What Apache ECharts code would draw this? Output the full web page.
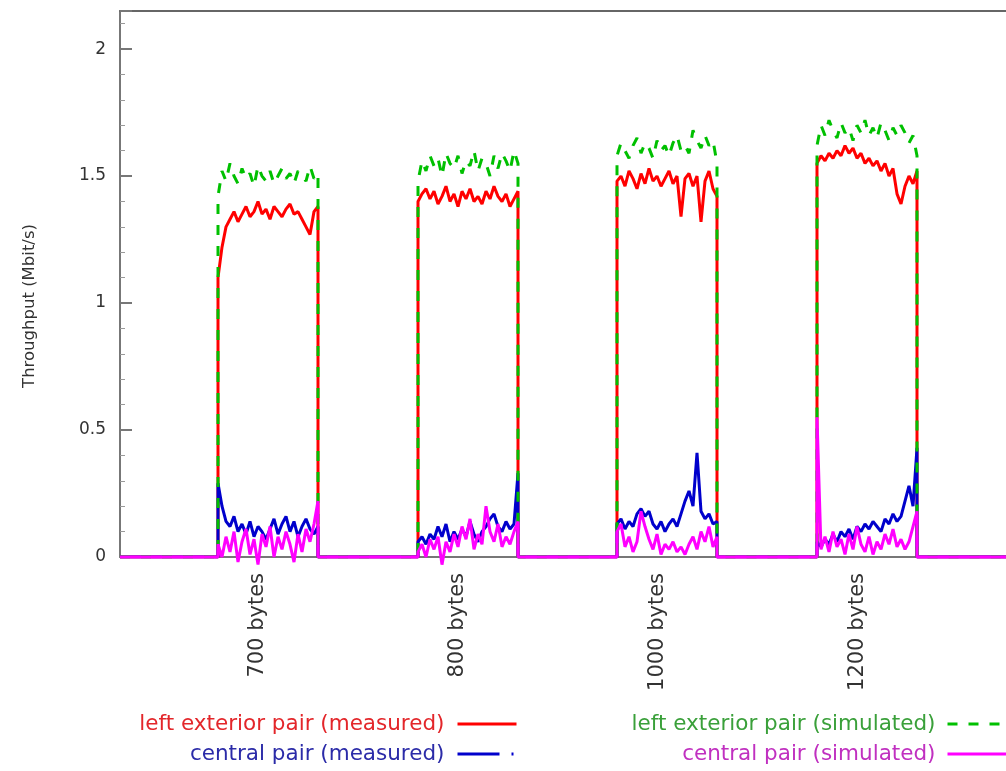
<!DOCTYPE html>
<html>
<head>
<meta charset="utf-8">
<script src="https://cdn.jsdelivr.net/npm/echarts@6/dist/echarts.min.js"></script>
<style>
html, body { margin: 0; padding: 0; background: #fff; }
#chart { width: 1006px; height: 771px; }
</style>
</head>
<body>
<div id="chart"></div>
<script>
// packet size blocks (x = sample time, arbitrary units)
var blockNames = ['700 bytes', '800 bytes', '1000 bytes', '1200 bytes'];
var blockStarts = [49, 149, 248.5, 348.5];
var labelPositions = [69, 169, 269, 369];
var sampleStep = 2;
var xMax = 443;

// left exterior pair (measured) - one list per block
var leftMeasured = [
    [1.10, 1.22, 1.30, 1.33, 1.36, 1.32, 1.35, 1.38, 1.34, 1.36, 1.40, 1.35, 1.37, 1.33, 1.38, 1.36, 1.34, 1.37, 1.39, 1.35, 1.36, 1.33, 1.30, 1.27, 1.36, 1.38],
    [1.40, 1.43, 1.45, 1.41, 1.44, 1.39, 1.42, 1.46, 1.40, 1.43, 1.38, 1.44, 1.41, 1.45, 1.40, 1.42, 1.39, 1.44, 1.41, 1.46, 1.42, 1.40, 1.43, 1.38, 1.41, 1.44],
    [1.48, 1.50, 1.46, 1.52, 1.49, 1.45, 1.51, 1.47, 1.53, 1.48, 1.50, 1.46, 1.49, 1.52, 1.47, 1.50, 1.34, 1.49, 1.51, 1.46, 1.50, 1.32, 1.48, 1.52, 1.45, 1.42],
    [1.55, 1.58, 1.56, 1.59, 1.57, 1.60, 1.58, 1.62, 1.59, 1.61, 1.57, 1.59, 1.55, 1.57, 1.54, 1.56, 1.52, 1.55, 1.50, 1.53, 1.43, 1.39, 1.46, 1.50, 1.47, 1.52]
];
// central pair (measured)
var centralMeasured = [
    [0.29, 0.20, 0.14, 0.12, 0.16, 0.10, 0.13, 0.09, 0.14, 0.08, 0.12, 0.10, 0.07, 0.11, 0.15, 0.09, 0.13, 0.16, 0.10, 0.14, 0.08, 0.12, 0.15, 0.11, 0.09, 0.12],
    [0.06, 0.08, 0.05, 0.09, 0.07, 0.12, 0.08, 0.13, 0.06, 0.10, 0.07, 0.11, 0.08, 0.14, 0.09, 0.06, 0.10, 0.12, 0.15, 0.17, 0.12, 0.10, 0.14, 0.11, 0.13, 0.33],
    [0.13, 0.15, 0.11, 0.14, 0.12, 0.17, 0.19, 0.16, 0.18, 0.13, 0.11, 0.14, 0.10, 0.13, 0.15, 0.12, 0.17, 0.22, 0.26, 0.20, 0.41, 0.18, 0.15, 0.17, 0.13, 0.14],
    [0.06, 0.04, 0.07, 0.05, 0.09, 0.06, 0.10, 0.08, 0.11, 0.07, 0.12, 0.10, 0.13, 0.11, 0.14, 0.12, 0.10, 0.15, 0.13, 0.17, 0.14, 0.16, 0.22, 0.28, 0.20, 0.43]
];
// left exterior pair (simulated)
var leftSimulated = [
    [1.42, 1.52, 1.48, 1.55, 1.50, 1.47, 1.53, 1.49, 1.51, 1.46, 1.54, 1.50, 1.48, 1.52, 1.47, 1.50, 1.53, 1.49, 1.51, 1.47, 1.52, 1.50, 1.48, 1.54, 1.49, 1.51],
    [1.48, 1.56, 1.52, 1.58, 1.54, 1.57, 1.50, 1.59, 1.55, 1.53, 1.58, 1.51, 1.56, 1.54, 1.60, 1.52, 1.57, 1.55, 1.50, 1.58, 1.53, 1.59, 1.56, 1.52, 1.60, 1.55],
    [1.58, 1.63, 1.60, 1.57, 1.62, 1.65, 1.59, 1.63, 1.61, 1.57, 1.64, 1.60, 1.62, 1.58, 1.63, 1.66, 1.60, 1.62, 1.59, 1.68, 1.64, 1.61, 1.66, 1.62, 1.64, 1.55],
    [1.62, 1.70, 1.66, 1.72, 1.68, 1.65, 1.71, 1.67, 1.69, 1.64, 1.70, 1.67, 1.72, 1.66, 1.69, 1.65, 1.71, 1.68, 1.64, 1.69, 1.66, 1.70, 1.67, 1.63, 1.66, 1.58]
];
// central pair (simulated)
var centralSimulated = [
    [0.05, 0.00, 0.08, 0.02, 0.10, -0.02, 0.06, 0.11, 0.01, 0.07, -0.03, 0.09, 0.04, 0.12, 0.00, 0.08, 0.03, 0.10, 0.05, -0.02, 0.09, 0.02, 0.11, 0.06, 0.13, 0.22],
    [0.02, 0.05, 0.00, 0.07, 0.03, 0.08, -0.03, 0.06, 0.02, 0.09, 0.04, 0.12, 0.07, 0.15, 0.03, 0.09, 0.05, 0.20, 0.10, 0.06, 0.13, 0.04, 0.08, 0.05, 0.10, 0.14],
    [0.10, 0.13, 0.04, 0.08, 0.02, 0.06, 0.18, 0.12, 0.07, 0.03, 0.09, 0.01, 0.05, 0.03, 0.06, 0.02, 0.04, 0.01, 0.05, 0.08, 0.03, 0.10, 0.06, 0.12, 0.04, 0.08],
    [0.55, 0.03, 0.08, 0.02, 0.10, 0.04, 0.07, 0.01, 0.09, 0.03, 0.12, 0.05, 0.02, 0.08, 0.01, 0.06, 0.03, 0.09, 0.05, 0.11, 0.04, 0.07, 0.03, 0.06, 0.12, 0.18]
];

var yTicks = { min: 0, max: 2.15, interval: 0.5 };
var font = 'DejaVu Sans';

function buildPoints(blocks) {
    var pts = [[0, 0]];
    blocks.forEach(function (vals, b) {
        var x0 = blockStarts[b];
        pts.push([x0, 0]);
        vals.forEach(function (v, i) {
            pts.push([x0 + i * sampleStep, v]);
        });
        pts.push([x0 + (vals.length - 1) * sampleStep, 0]);
    });
    pts.push([xMax, 0]);
    return pts;
}

function lineSeries(name, blocks, color, type, clip) {
    return {
        name: name,
        type: 'line',
        data: buildPoints(blocks),
        symbol: 'none',
        showSymbol: false,
        clip: clip,
        lineStyle: { color: color, width: 3, type: type },
        itemStyle: { color: color }
    };
}

// the symbol in the legend is hidden, only the line sample stays
var legendCommon = {
    orient: 'vertical', align: 'right', top: 708,
    itemWidth: 59, itemHeight: 14, itemGap: 8,
    itemStyle: { opacity: 0 },
    lineStyle: { width: 3 }
};

var chart = echarts.init(document.getElementById('chart'));
var option = {
    animation: false,
    backgroundColor: '#fff',
    grid: { left: 120, top: 11, right: 0, height: 546 },
    legend: [
        Object.assign({}, legendCommon, {
            right: 483,
            textStyle: { fontFamily: font, fontSize: 21.5, padding: [0, 8, 0, 0] },
            data: [
                { name: 'left exterior pair (measured)', textStyle: { color: '#e3262a' } },
                { name: 'central pair (measured)', textStyle: { color: '#2b2ba8' }, lineStyle: { type: [42, 12, 2, 10] } }
            ]
        }),
        Object.assign({}, legendCommon, {
            right: -7,
            textStyle: { fontFamily: font, fontSize: 21.5, padding: [0, 7, 0, 0] },
            data: [
                { name: 'left exterior pair (simulated)', textStyle: { color: '#3aa03a' } },
                { name: 'central pair (simulated)', textStyle: { color: '#c030c0' } }
            ]
        })
    ],
    xAxis: [
        {
            type: 'value', min: 0, max: xMax,
            axisLine: { lineStyle: { color: '#777', width: 2 } },
            splitLine: { show: false },
            axisTick: { show: false },
            axisLabel: {
                customValues: labelPositions,
                rotate: 90, margin: 16,
                fontFamily: font, fontSize: 21, color: '#333',
                formatter: function (v) {
                    var i = labelPositions.indexOf(v);
                    return i >= 0 ? blockNames[i] : '';
                }
            }
        },
        {
            type: 'value', position: 'top', min: 0, max: xMax,
            axisLine: { show: true, lineStyle: { color: '#666', width: 2 } },
            axisTick: { show: false }, axisLabel: { show: false }, splitLine: { show: false }
        }
    ],
    yAxis: {
        type: 'value', min: yTicks.min, max: yTicks.max, interval: yTicks.interval,
        name: 'Throughput (Mbit/s)', nameLocation: 'middle', nameGap: 82,
        nameTextStyle: { fontFamily: font, fontSize: 16.5, color: '#333', padding: [0, 44, 0, 0] },
        axisLine: { show: true, lineStyle: { color: '#777', width: 2 } },
        axisTick: { show: true, inside: true, length: 12, lineStyle: { color: '#777', width: 2 } },
        minorTick: { show: true, splitNumber: 5, length: 5, lineStyle: { color: '#999' } },
        splitLine: { show: false },
        axisLabel: { fontFamily: font, fontSize: 17, color: '#333', margin: 14, showMaxLabel: false }
    },
    series: [
        lineSeries('left exterior pair (measured)', leftMeasured, '#ff0000', 'solid', true),
        lineSeries('central pair (measured)', centralMeasured, '#0000cc', 'solid', true),
        lineSeries('left exterior pair (simulated)', leftSimulated, '#00c000', [10, 11], true),
        lineSeries('central pair (simulated)', centralSimulated, '#ff00ff', 'solid', false)
    ]
};
chart.setOption(option);
</script>
</body>
</html>
